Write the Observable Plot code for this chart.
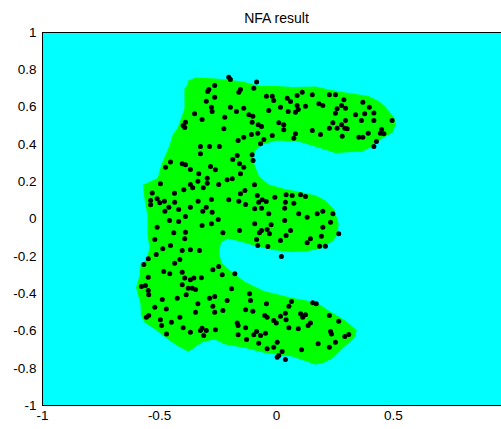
<!DOCTYPE html>
<html>
<head>
<meta charset="utf-8">
<script src="https://cdn.jsdelivr.net/npm/d3@7"></script>
<script src="https://cdn.jsdelivr.net/npm/@observablehq/plot@0.6"></script>
<style>
  html, body { margin: 0; padding: 0; background: #fff; overflow: hidden; }
</style>
</head>
<body>
<div id="chart"></div>
<script>
// Axis ticks (the x axis runs on past the right edge, so its "1" is not drawn)
const xTicks = [-1, -0.5, 0, 0.5];
const yTicks = [-1, -0.8, -0.6, -0.4, -0.2, 0, 0.2, 0.4, 0.6, 0.8, 1];

// Outline of the region accepted by the NFA (the "E" shape)
const regionX = [-0.376,-0.346,-0.261,-0.218,-0.145,-0.077,-0.004,0.068,0.167,0.222,0.295,0.393,0.436,0.466,0.500,0.504,0.494,0.451,0.408,0.365,0.252,0.167,0.094,-0.004,-0.060,-0.090,-0.105,-0.098,-0.077,-0.034,0.038,0.111,0.167,0.201,0.244,0.261,0.256,0.237,0.188,0.124,0.060,-0.013,-0.081,-0.154,-0.209,-0.241,-0.250,-0.239,-0.197,-0.141,-0.056,0.060,0.171,0.222,0.295,0.338,0.329,0.282,0.239,0.197,0.167,0.068,-0.047,-0.132,-0.218,-0.261,-0.312,-0.346,-0.376,-0.419,-0.462,-0.517,-0.560,-0.575,-0.577,-0.596,-0.581,-0.577,-0.553,-0.538,-0.547,-0.547,-0.560,-0.566,-0.504,-0.489,-0.453,-0.440,-0.419,-0.389,-0.389];
const regionY = [0.737,0.753,0.748,0.743,0.732,0.708,0.708,0.702,0.705,0.689,0.673,0.654,0.627,0.592,0.539,0.507,0.469,0.437,0.394,0.367,0.359,0.394,0.421,0.426,0.405,0.378,0.340,0.287,0.223,0.180,0.155,0.137,0.121,0.099,0.046,-0.024,-0.083,-0.115,-0.153,-0.169,-0.172,-0.161,-0.142,-0.115,-0.099,-0.123,-0.177,-0.239,-0.284,-0.338,-0.391,-0.426,-0.453,-0.496,-0.552,-0.598,-0.635,-0.686,-0.740,-0.767,-0.775,-0.732,-0.713,-0.686,-0.668,-0.641,-0.651,-0.678,-0.705,-0.678,-0.641,-0.587,-0.552,-0.517,-0.453,-0.367,-0.303,-0.249,-0.223,-0.153,-0.088,0.019,0.110,0.180,0.217,0.287,0.394,0.448,0.485,0.592,0.700];

// Training samples
const sampleX = [
  -0.264,-0.289,-0.294,-0.264,-0.300,-0.278,-0.275,-0.221,-0.350,-0.318,-0.389,-0.399,-0.392,-0.225,-0.325,-0.286,-0.244,-0.325,-0.453,-0.403,
  -0.389,-0.474,-0.368,-0.282,-0.261,-0.332,-0.296,-0.336,-0.296,-0.368,-0.358,-0.313,-0.247,-0.496,-0.396,-0.436,-0.531,-0.510,-0.538,-0.499,
  -0.479,-0.435,-0.335,-0.278,-0.460,-0.477,-0.418,-0.368,-0.300,-0.315,-0.275,-0.538,
  -0.204,-0.197,-0.085,-0.154,-0.161,-0.097,-0.043,-0.018,-0.012,0.046,0.060,0.088,0.110,0.153,-0.197,-0.171,-0.140,-0.033,0.017,0.050,
  0.088,0.093,0.081,0.124,-0.118,-0.101,-0.104,-0.078,-0.064,0.010,0.031,0.031,0.081,0.074,0.153,-0.107,-0.080,-0.140,-0.164,-0.054,
  -0.068,-0.018,-0.168,-0.187,-0.104,-0.100,-0.158,-0.140,-0.154,-0.211,-0.189,-0.094,-0.135,-0.154,-0.082,-0.204,-0.161,-0.132,-0.076,-0.061,
  -0.044,-0.093,-0.064,-0.007,0.041,0.067,0.038,0.074,0.103,0.124,0.035,-0.033,0.095,
  0.226,0.252,0.288,0.181,0.198,0.278,0.259,0.295,0.369,0.397,0.416,0.252,0.338,0.377,0.363,0.295,0.416,0.494,0.241,0.278,
  0.292,0.302,0.226,0.259,0.449,0.459,0.444,0.188,0.281,0.392,0.352,0.369,0.427,0.416,0.198,0.241,0.174,
  -0.457,-0.418,-0.389,-0.249,-0.510,-0.318,-0.278,-0.439,-0.389,-0.392,-0.229,-0.520,-0.453,-0.486,-0.403,-0.368,-0.329,-0.514,-0.548,-0.413,
  -0.567,-0.435,-0.247,-0.272,-0.482,-0.456,-0.403,-0.232,-0.548,-0.392,-0.368,-0.353,-0.321,-0.403,-0.577,-0.560,-0.548,-0.546,-0.377,-0.360,
  -0.346,-0.386,-0.424,-0.286,-0.264,-0.488,-0.520,-0.471,-0.336,-0.272,-0.346,-0.229,-0.264,-0.546,-0.556,-0.413,-0.496,-0.449,-0.491,-0.399,
  -0.318,-0.325,-0.300,-0.261,-0.368,-0.470,-0.311,
  -0.158,-0.093,-0.023,0.035,0.131,-0.064,-0.073,-0.040,-0.030,0.060,0.041,-0.085,0.017,0.145,0.131,-0.080,-0.037,0.021,-0.178,-0.192,
  -0.115,-0.211,-0.111,-0.043,0.064,0.053,0.155,-0.132,-0.101,0.038,-0.050,-0.040,0.017,0.103,0.124,0.112,-0.012,-0.001,0.041,-0.168,
  -0.164,0.145,0.135,-0.132,0.053,0.093,-0.085,-0.097,-0.047,-0.068,-0.164,-0.128,0.003,-0.076,-0.012,-0.040,0.107,0.024,0.010,0.003,
  0.038,
  0.231,0.198,0.266,0.192,0.184,0.209,0.170,0.226,0.266,0.231,0.235,0.309,0.292,0.178,0.252,0.226
];
const sampleY = [
  0.716,0.694,0.684,0.653,0.632,0.599,0.576,0.546,0.564,0.534,0.519,0.501,0.491,0.484,0.389,0.389,0.389,0.350,0.305,0.296,
  0.291,0.278,0.265,0.282,0.264,0.242,0.219,0.203,0.192,0.185,0.167,0.167,0.185,0.189,0.157,0.138,0.140,0.108,0.099,0.087,
  0.095,0.090,0.095,0.105,0.063,0.042,0.051,0.063,0.063,0.042,0.036,0.076,
  0.760,0.748,0.734,0.694,0.680,0.701,0.658,0.658,0.635,0.648,0.630,0.662,0.680,0.666,0.599,0.576,0.594,0.582,0.599,0.576,
  0.609,0.587,0.573,0.605,0.559,0.551,0.519,0.505,0.496,0.516,0.505,0.478,0.457,0.433,0.475,0.453,0.460,0.439,0.421,0.426,
  0.403,0.448,0.340,0.319,0.344,0.314,0.296,0.278,0.242,0.210,0.216,0.183,0.153,0.135,0.126,0.103,0.095,0.078,0.090,0.103,
  0.094,0.055,0.058,0.117,0.130,0.126,0.090,0.085,0.130,0.121,0.058,0.028,0.028,
  0.666,0.666,0.639,0.618,0.609,0.609,0.591,0.594,0.626,0.599,0.569,0.567,0.559,0.564,0.528,0.528,0.528,0.528,0.516,0.505,
  0.487,0.484,0.487,0.487,0.480,0.457,0.460,0.453,0.444,0.460,0.439,0.439,0.416,0.389,0.042,0.028,0.028,
  -0.008,-0.013,0.013,-0.003,-0.044,-0.035,-0.026,-0.074,-0.071,-0.106,-0.074,-0.110,-0.142,-0.160,-0.169,-0.165,-0.169,-0.190,-0.213,-0.217,
  -0.244,-0.237,-0.255,-0.272,-0.282,-0.294,-0.285,-0.299,-0.312,-0.317,-0.326,-0.317,-0.315,-0.353,-0.362,-0.357,-0.383,-0.406,-0.371,-0.371,
  -0.378,-0.406,-0.425,-0.425,-0.416,-0.432,-0.473,-0.482,-0.455,-0.468,-0.500,-0.491,-0.500,-0.517,-0.527,-0.527,-0.540,-0.553,-0.571,-0.583,
  -0.586,-0.598,-0.598,-0.594,-0.607,-0.616,-0.625,
  -0.062,-0.026,-0.031,-0.008,0.010,-0.062,-0.074,-0.056,-0.079,-0.062,-0.088,-0.110,-0.115,-0.106,-0.128,-0.142,-0.147,-0.201,-0.294,-0.374,
  -0.401,-0.437,-0.437,-0.455,-0.442,-0.468,-0.449,-0.487,-0.494,-0.505,-0.517,-0.527,-0.521,-0.508,-0.514,-0.527,-0.544,-0.557,-0.540,-0.557,
  -0.571,-0.557,-0.571,-0.583,-0.583,-0.589,-0.603,-0.621,-0.612,-0.625,-0.621,-0.646,-0.661,-0.666,-0.687,-0.696,-0.701,-0.710,-0.732,-0.741,
  -0.753,
  -0.017,-0.044,-0.079,-0.092,-0.146,-0.146,-0.455,-0.517,-0.548,-0.603,-0.616,-0.619,-0.630,-0.669,-0.661,-0.687
];

const region = regionX.map((x, i) => ({x, y: regionY[i]}));
const samples = sampleX.map((x, i) => ({x, y: sampleY[i]}));

const chart = Plot.plot({
  width: 501,
  height: 429,
  marginLeft: 42,
  marginTop: 32,
  marginBottom: 24,
  marginRight: 0,
  style: {fontFamily: "'Liberation Sans', Arial, sans-serif", fontSize: "13.5px", color: "#000", background: "#fff"},
  x: {domain: [-1, 1], range: [42, 510], ticks: xTicks, tickFormat: d => String(d), tickSize: 0, tickPadding: 5, label: null},
  y: {domain: [-1, 1], range: [405, 32], ticks: yTicks, tickFormat: d => String(d), tickSize: 0, tickPadding: 6, label: null},
  marks: [
    Plot.frame({fill: "#00ffff", stroke: null}),
    Plot.line(region, {x: "x", y: "y", fill: "#00ff00", stroke: "#00ff00", strokeWidth: 2, strokeLinejoin: "round"}),
    Plot.dot(samples, {x: "x", y: "y", r: 2.5, fill: "#000", stroke: null}),
    Plot.frame({anchor: "left", stroke: "#000"}),
    Plot.frame({anchor: "top", stroke: "#000"}),
    Plot.frame({anchor: "bottom", stroke: "#000"}),
    Plot.text(["NFA result"], {frameAnchor: "top", dx: 4.5, dy: -19, fontSize: 14, fill: "#000"})
  ]
});
document.getElementById("chart").appendChild(chart);
</script>
</body>
</html>
